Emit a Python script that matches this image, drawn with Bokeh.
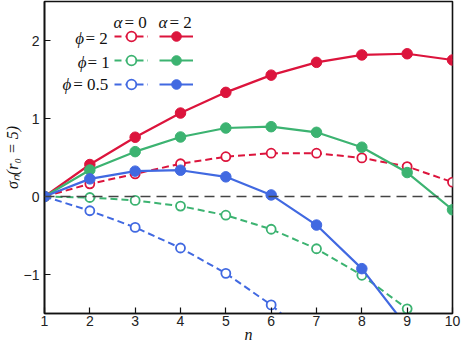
from bokeh.plotting import figure
from bokeh.models import (Range1d, FixedTicker, Span, Label, Legend, LegendItem)
from bokeh.embed import file_html
from bokeh.resources import INLINE

# ---- data ----
n = [1, 2, 3, 4, 5, 6, 7, 8, 9, 10]
phi2_a2 = [0, 0.41, 0.76, 1.07, 1.335, 1.556, 1.72, 1.815, 1.83, 1.75]
phi1_a2 = [0, 0.34, 0.575, 0.763, 0.878, 0.895, 0.823, 0.632, 0.307, -0.17]
phi05_a2 = [0, 0.226, 0.325, 0.337, 0.252, 0.02, -0.366, -0.925, -1.675]
phi2_a0 = [0, 0.162, 0.29, 0.42, 0.51, 0.555, 0.555, 0.495, 0.384, 0.184]
phi1_a0 = [0, -0.013, -0.05, -0.123, -0.24, -0.42, -0.67, -1.01, -1.44, -1.97]
phi05_a0 = [0, -0.183, -0.396, -0.66, -0.985, -1.39, -1.89]

x_ticks = [1, 2, 3, 4, 5, 6, 7, 8, 9, 10]
y_ticks = [-1, 0, 1, 2]
row_labels = ["= 2", "= 1", "= 0.5"]
col_labels = ["= 0", "= 2"]
x_title = "n"
y_title = "σₙ(r₀ = 5)"

RED, GREEN, BLUE = "#dc143c", "#3cb371", "#4169e1"
SERIF = "'Liberation Serif', 'Times New Roman', serif"
SANS = "'Liberation Sans', Arial, sans-serif"

p = figure(width=462, height=345, output_backend="svg", toolbar_location=None,
           x_range=Range1d(1, 10), y_range=Range1d(-1.5, 2.5),
           min_border_left=36, min_border_right=10, min_border_top=1, min_border_bottom=0)
p.grid.visible = False
p.outline_line_color = "#111111"
p.outline_line_width = 1.6
p.background_fill_color = "white"
p.border_fill_color = "white"

for ax in (p.xaxis[0], p.yaxis[0]):
    ax.major_tick_in = 6
    ax.major_tick_out = 0
    ax.minor_tick_in = 0
    ax.minor_tick_out = 0
    ax.minor_tick_line_color = None
    ax.axis_line_width = 1.6
    ax.axis_line_color = "#111111"
    ax.major_tick_line_color = "#111111"
    ax.major_tick_line_width = 1.2
    ax.major_label_text_font = SANS
    ax.major_label_text_font_size = "14px"
    ax.major_label_text_color = "#222222"
    ax.axis_label_text_font = SERIF
    ax.axis_label_text_font_style = "italic"
    ax.axis_label_text_font_size = "16px"
    ax.axis_label_text_color = "#111111"

p.xaxis.ticker = FixedTicker(ticks=x_ticks)
p.yaxis.ticker = FixedTicker(ticks=y_ticks)
p.xaxis.major_label_standoff = 2
p.yaxis.major_label_standoff = 5
p.xaxis.axis_label = x_title
p.xaxis.axis_label_standoff = -3
p.yaxis.axis_label = y_title
p.yaxis.axis_label_standoff = 0

p.add_layout(Span(location=0, dimension="width", line_color="#444444",
                  line_width=1.3, line_dash="10 6"))

series = [
    (phi2_a0, RED, False), (phi1_a0, GREEN, False), (phi05_a0, BLUE, False),
    (phi2_a2, RED, True), (phi1_a2, GREEN, True), (phi05_a2, BLUE, True),
]
items0, items2 = [], []
for ys, col, filled in series:
    xs = n[:len(ys)]
    if filled:
        lr = p.line(xs, ys, line_color=col, line_width=2.2)
        sr = p.scatter(xs, ys, size=10.5, marker="circle", fill_color=col, line_color=col)
        items2.append(LegendItem(label=" ", renderers=[lr, sr]))
    else:
        lr = p.line(xs, ys, line_color=col, line_width=2, line_dash="7 4")
        sr = p.scatter(xs, ys, size=9, marker="circle", fill_color="white",
                       line_color=col, line_width=1.8)
        items0.append(LegendItem(label=" ", renderers=[lr, sr]))

def make_legend(items, x, y):
    lg = Legend(items=items, location=(x, y), orientation="vertical",
                glyph_width=34, glyph_height=24, label_height=20, label_width=0,
                label_standoff=0, spacing=-1, padding=0, margin=0,
                border_line_alpha=0, background_fill_alpha=0,
                label_text_font_size="10px")
    p.add_layout(lg, "center")

# positions measured in screen px from the frame's bottom-left corner
make_legend(items0, 70, 217)
make_legend(items2, 115, 217)

row_y = [275, 251, 229]
phi_right = [39.5, 42, 26.7]
eq_left = [41, 43, 28.7]
for lab, yy, xr, xl in zip(row_labels, row_y, phi_right, eq_left):
    p.add_layout(Label(x=xr, y=yy, x_units="screen", y_units="screen", text="ϕ",
                       text_font=SERIF, text_font_style="italic", text_font_size="17px",
                       text_align="right", text_baseline="middle", text_color="#111111"))
    p.add_layout(Label(x=xl, y=yy, x_units="screen", y_units="screen", text=lab,
                       text_font=SERIF, text_font_size="17px",
                       text_align="left", text_baseline="middle", text_color="#111111"))

head_y = 291
alpha_right = [78, 123]
aeq_left = [80, 125]
for lab, xr, xl in zip(col_labels, alpha_right, aeq_left):
    p.add_layout(Label(x=xr, y=head_y, x_units="screen", y_units="screen", text="α",
                       text_font=SERIF, text_font_style="italic", text_font_size="17px",
                       text_align="right", text_baseline="middle", text_color="#111111"))
    p.add_layout(Label(x=xl, y=head_y, x_units="screen", y_units="screen", text=lab,
                       text_font=SERIF, text_font_size="17px",
                       text_align="left", text_baseline="middle", text_color="#111111"))

open("out.html", "w").write(file_html(p, INLINE))
